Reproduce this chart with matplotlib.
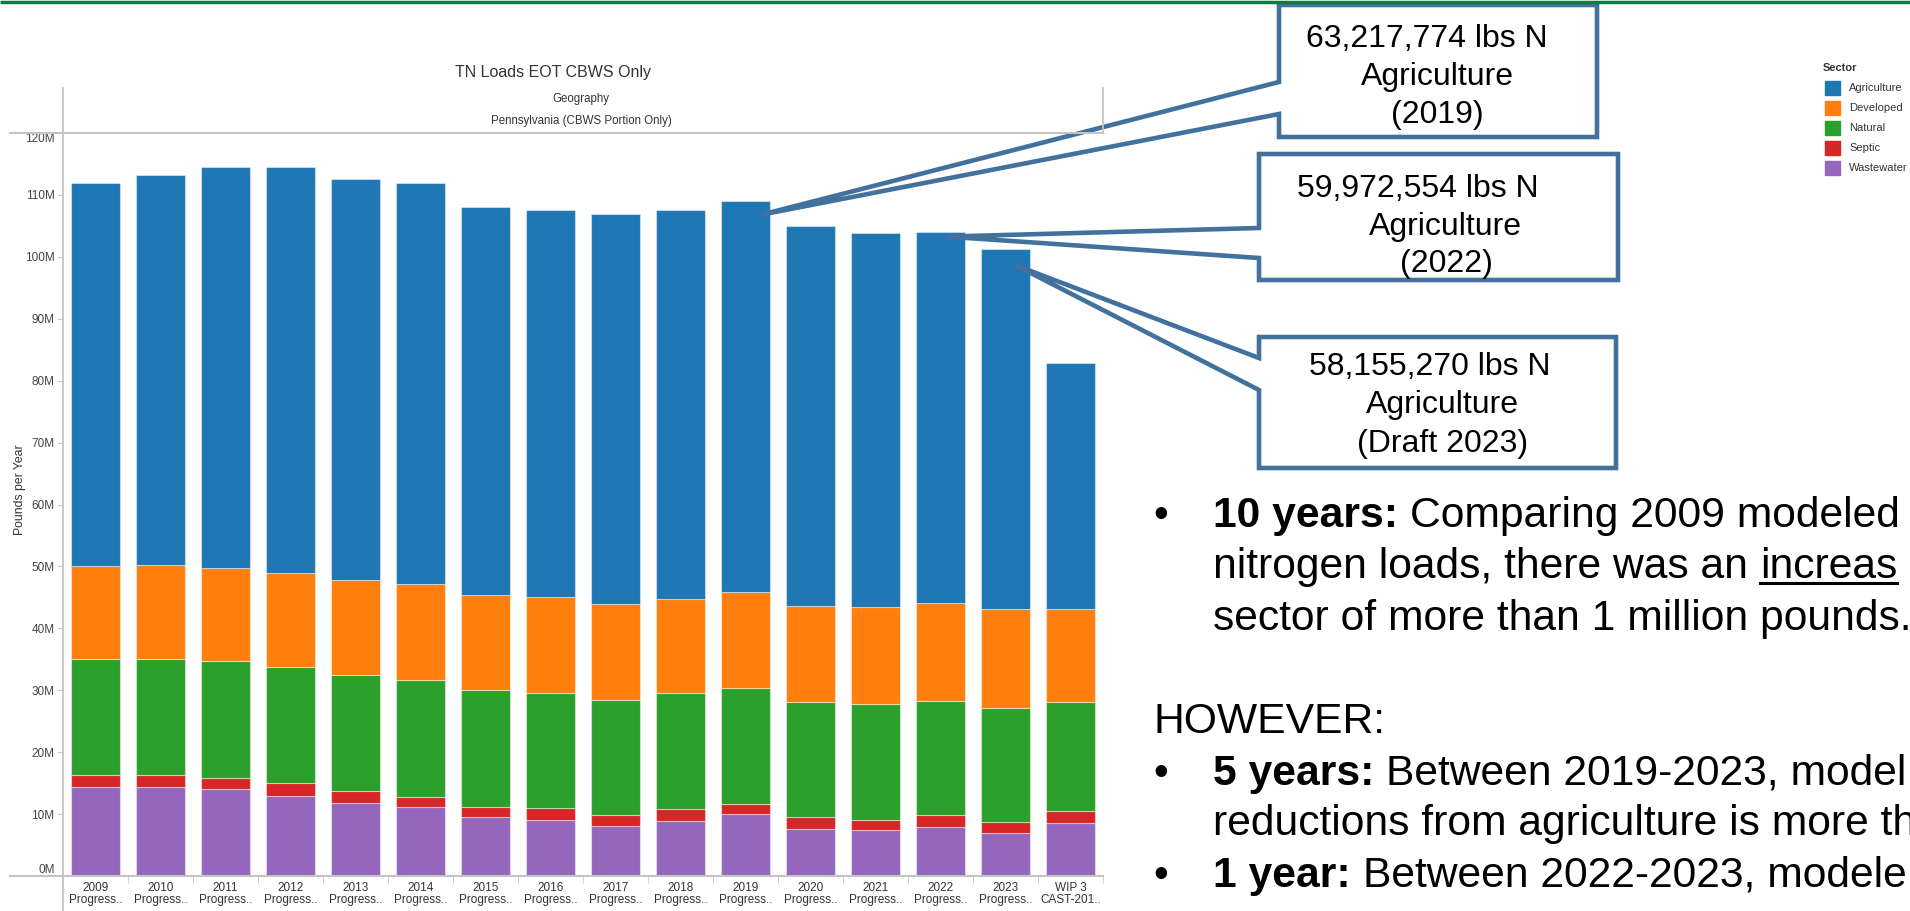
import numpy as np
import matplotlib
matplotlib.use("Agg")
import matplotlib.pyplot as plt
from matplotlib.patches import Polygon, Rectangle

plt.rcParams["font.family"] = ["Liberation Sans", "DejaVu Sans"]

# datos (millones de libras por año)
etiquetas = ["2009\nProgress..", "2010\nProgress..", "2011\nProgress..", "2012\nProgress..",
             "2013\nProgress..", "2014\nProgress..", "2015\nProgress..", "2016\nProgress..",
             "2017\nProgress..", "2018\nProgress..", "2019\nProgress..", "2020\nProgress..",
             "2021\nProgress..", "2022\nProgress..", "2023\nProgress..", "WIP 3\nCAST-201.."]
agriculture = [61.9, 63.0, 64.8, 65.5, 64.7, 64.9, 62.7, 62.6, 63.0, 62.8, 63.22, 61.4, 60.4, 59.97, 58.16, 39.6]
developed = [14.9, 15.1, 14.9, 15.3, 15.4, 15.5, 15.3, 15.4, 15.4, 15.3, 15.4, 15.5, 15.7, 15.8, 15.9, 15.1]
natural = [18.8, 18.8, 19.0, 18.7, 18.7, 18.8, 18.9, 18.6, 18.6, 18.7, 18.7, 18.6, 18.6, 18.5, 18.4, 17.6]
septic = [1.9, 1.9, 1.7, 2.0, 1.9, 1.7, 1.7, 1.9, 1.8, 1.9, 1.7, 1.9, 1.7, 1.9, 1.9, 1.9]
wastewater = [14.4, 14.4, 14.1, 13.0, 11.8, 11.1, 9.5, 9.1, 8.1, 8.9, 10.0, 7.6, 7.4, 7.9, 6.9, 8.6]

sectores = ["Agriculture", "Developed", "Natural", "Septic", "Wastewater"]
colores = {"Agriculture": "#1f77b4", "Developed": "#ff7f0e", "Natural": "#2ca02c",
           "Septic": "#d62728", "Wastewater": "#9467bd"}

# callouts: (indice de barra, texto)
callouts = [
    (10, ["63,217,774 lbs N", "Agriculture", "(2019)"]),
    (13, ["59,972,554 lbs N", "Agriculture", "(2022)"]),
    (14, ["58,155,270 lbs N", "Agriculture", "(Draft 2023)"]),
]

W, H = 1910, 911
fig = plt.figure(figsize=(W / 100, H / 100), dpi=100)
izq, der, arriba, abajo = 63, 1103, 133, 876
ax = fig.add_axes([izq / W, 1 - abajo / H, (der - izq) / W, (abajo - arriba) / H])

x = np.arange(len(etiquetas))
base = np.zeros(len(etiquetas))
for nombre, vals in [("Wastewater", wastewater), ("Septic", septic), ("Natural", natural),
                     ("Developed", developed), ("Agriculture", agriculture)]:
    ax.bar(x, vals, 0.75, bottom=base, color=colores[nombre],
           edgecolor=(1, 1, 1, 0.45), linewidth=0.8)
    base += np.array(vals)
totales = base

ax.set_xlim(-0.5, len(etiquetas) - 0.5)
ax.set_ylim(0, 120)
ax.set_yticks(range(0, 121, 10))
ax.set_yticklabels([f"{v}M" for v in range(0, 121, 10)])
ax.get_yticklabels()[0].set_va("bottom")
ax.get_yticklabels()[-1].set_va("top")
ax.tick_params(axis="y", length=4, color="#c8c8c8", labelsize=8.5, labelcolor="#444444", pad=2)
ax.set_xticks(x)
ax.set_xticklabels(etiquetas, fontsize=8.5, color="#333333", linespacing=1.0)
ax.set_xticks(np.arange(-0.5, len(etiquetas), 1), minor=True)
ax.tick_params(axis="x", which="major", length=0, pad=4)
ax.tick_params(axis="x", which="minor", length=5, color="#c8c8c8")
for s in ax.spines.values():
    s.set_visible(False)
ax.set_ylabel("Pounds per Year", fontsize=8.8, color="#333333")
ax.yaxis.set_label_coords(-0.036, 0.52)

# capa superior en pixeles
ov = fig.add_axes([0, 0, 1, 1], zorder=5)
ov.set_xlim(0, W)
ov.set_ylim(H, 0)
ov.axis("off")
ov.patch.set_alpha(0)

gris = "#c4c4c4"
ov.plot([0, W], [1.5, 1.5], color="#0a7d3c", lw=2.5, solid_capstyle="butt")
ov.plot([izq, izq], [88, H], color=gris, lw=1.3)
ov.plot([der, der], [88, arriba], color=gris, lw=1.3)
ov.plot([10, der], [arriba, arriba], color=gris, lw=1.5)
ov.plot([10, der], [abajo, abajo], color=gris, lw=1.5)

ov.text(553, 73, "TN Loads EOT CBWS Only", fontsize=11.5, color="#333333", ha="center", va="center")
ov.text(581, 99, "Geography", fontsize=8.3, color="#333333", ha="center", va="center")
ov.text(581, 121, "Pennsylvania (CBWS Portion Only)", fontsize=8.3, color="#333333", ha="center", va="center")

# leyenda
ov.text(1823, 68, "Sector", fontsize=8, fontweight="bold", color="#333333", ha="left", va="center")
for k, nombre in enumerate(sectores):
    yc = 88 + k * 20
    ov.add_patch(Rectangle((1825, yc - 7), 15, 14, color=colores[nombre]))
    ov.text(1849, yc, nombre, fontsize=8, color="#333333", ha="left", va="center")

# callouts
cajas = [(1279, 1597, 5, 137, 82, 114, 0.25, -2.2),
         (1259, 1618, 154, 280, 228, 258, 0.10, -0.8),
         (1259, 1616, 337, 468, 358, 390, 0.15, -2.6)]
lineas_y = [(47, 85, 123), (197, 235, 272), (375, 413, 452)]
centros_x = [(1427, 1437, 1437), (1418, 1445, 1446), (1430, 1442, 1443)]
azul = "#41719c"
for (i, textos), (x0, x1, y0, y1, b0, b1, dx, dy), ly, cx in zip(callouts, cajas, lineas_y, centros_x):
    px, py = ax.transData.transform((i + dx, totales[i] + dy))
    punta = (px, H - py)
    pts = [(x0, y0), (x1, y0), (x1, y1), (x0, y1), (x0, b1), punta, (x0, b0)]
    ov.add_patch(Polygon(pts, closed=True, facecolor="white", edgecolor=azul,
                         lw=3.3, joinstyle="miter"))
    for t, yy, xx in zip(textos, ly, cx):
        ov.text(xx, yy, t, fontsize=23, ha="center", va="baseline", color="black")

# texto de la derecha
renderer = fig.canvas.get_renderer()
TAM = 30.7


def ancho(s, **kw):
    t = ov.text(0, 0, s, fontsize=TAM, **kw)
    w = t.get_window_extent(renderer).width
    t.remove()
    return w


espacio = ancho("a a") - ancho("aa")


def renglon(xi, y, partes):
    for s, negrita, subrayado in partes:
        t = ov.text(xi, y, s, fontsize=TAM, fontweight="bold" if negrita else "normal",
                    ha="left", va="baseline", color="black")
        w = t.get_window_extent(renderer).width
        if subrayado:
            ov.plot([xi, xi + w], [y + 5, y + 5], color="black", lw=2.2)
        xi += w + espacio


xb, xt = 1153, 1213
ov.text(xb, 527, "•", fontsize=TAM, ha="left", va="baseline")
renglon(xt, 527, [("10 years:", True, False), ("Comparing 2009 modeled", False, False)])
renglon(xt, 578, [("nitrogen loads, there was an", False, False), ("increas", False, True)])
renglon(xt, 630, [("sector of more than 1 million pounds.", False, False)])
renglon(xb, 733, [("HOWEVER:", False, False)])
ov.text(xb, 785, "•", fontsize=TAM, ha="left", va="baseline")
renglon(xt, 785, [("5 years:", True, False), ("Between 2019-2023, model", False, False)])
renglon(xt, 835, [("reductions from agriculture is more th", False, False)])
ov.text(xb, 887, "•", fontsize=TAM, ha="left", va="baseline")
renglon(xt, 887, [("1 year:", True, False), ("Between 2022-2023, modele", False, False)])

fig.savefig("out.png", dpi=100)
